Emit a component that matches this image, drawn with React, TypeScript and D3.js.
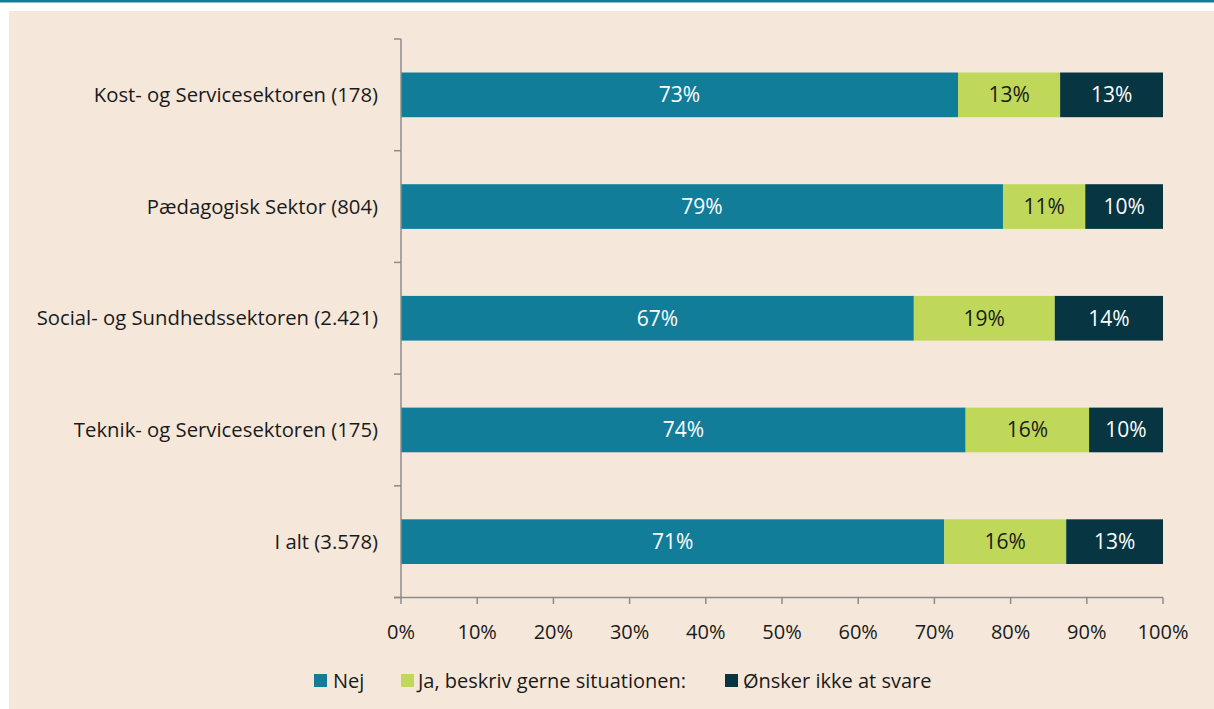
import React from "react";
import * as d3 from "d3";

const categories = [
  "Kost- og Servicesektoren (178)",
  "Pædagogisk Sektor (804)",
  "Social- og Sundhedssektoren (2.421)",
  "Teknik- og Servicesektoren (175)",
  "I alt (3.578)",
];
const seriesNames = ["Nej", "Ja, beskriv gerne situationen:", "Ønsker ikke at svare"];
const nej = [73.1, 79.0, 67.3, 74.1, 71.3];
const ja = [13.4, 10.8, 18.5, 16.2, 16.0];
const oensker = [13.5, 10.2, 14.2, 9.7, 12.7];
const labelsNej = ["73%", "79%", "67%", "74%", "71%"];
const labelsJa = ["13%", "11%", "19%", "16%", "16%"];
const labelsOensker = ["13%", "10%", "14%", "10%", "13%"];
const xTicks = [0, 10, 20, 30, 40, 50, 60, 70, 80, 90, 100];

const colors = ["#127d99", "#bfd85a", "#073541"];
const textColors = ["#ffffff", "#1a1a1a", "#ffffff"];
const FONT = "'Open Sans', 'Noto Sans', sans-serif";

export default function App() {
  const W = 1214, H = 709;
  const x = d3.scaleLinear().domain([0, 100]).range([401, 1163]);
  const y = d3.scaleBand().domain(categories).range([39, 597.5]).paddingInner(0.6).paddingOuter(0.3);
  const yEdge = d3.scaleLinear().domain([0, categories.length]).range([39, 597.5]);
  const series = [nej, ja, oensker];
  const labels = [labelsNej, labelsJa, labelsOensker];
  const axisColor = "#8c8c8c";

  const legendItems = [
    { sq: 314, tx: 333 },
    { sq: 401, tx: 418 },
    { sq: 725, tx: 743 },
  ];

  return (
    <svg width={W} height={H} style={{ position: "absolute", left: 0, top: 0 }} fontFamily={FONT}>
      <rect x={0} y={0} width={W} height={H} fill="#ffffff" />
      <rect x={0} y={0} width={W} height={2.5} fill="#127d99" />
      <rect x={9} y={11} width={W - 9} height={H - 11} fill="#f5e8da" />
      {categories.map((c, i) => {
        let acc = 0;
        return (
          <g key={c}>
            {series.map((s, k) => {
              const x0 = x(acc);
              acc += s[i];
              const x1 = x(acc);
              const by = y(c)!;
              return (
                <g key={k}>
                  <rect x={x0} y={by} width={x1 - x0} height={y.bandwidth()} fill={colors[k]} />
                  <text x={(x0 + x1) / 2} y={by + y.bandwidth() / 2} dy="0.35em" textAnchor="middle"
                    fontSize={21} fill={textColors[k]}>{labels[k][i]}</text>
                </g>
              );
            })}
            <text x={378} y={y(c)! + y.bandwidth() / 2} dy="0.35em" textAnchor="end" fontSize={20.3} fill="#1a1a1a">{c}</text>
          </g>
        );
      })}
      {/* y axis */}
      <line x1={401} x2={401} y1={39} y2={597.5} stroke={axisColor} strokeWidth={1.5} />
      {d3.range(categories.length + 1).map((i) => (
        <line key={i} x1={394} x2={401} y1={yEdge(i)} y2={yEdge(i)} stroke={axisColor} strokeWidth={1.5} />
      ))}
      {/* x axis */}
      <line x1={394} x2={1163} y1={597.5} y2={597.5} stroke={axisColor} strokeWidth={1.5} />
      {xTicks.map((t) => (
        <g key={t}>
          <line x1={x(t)} x2={x(t)} y1={597.5} y2={604} stroke={axisColor} strokeWidth={1.5} />
          <text x={x(t)} y={632} dy="0.35em" textAnchor="middle" fontSize={20} fill="#1a1a1a">{t}%</text>
        </g>
      ))}
      {/* legend */}
      {seriesNames.map((n, k) => (
        <g key={n}>
          <rect x={legendItems[k].sq} y={674} width={13} height={13} fill={colors[k]} />
          <text x={legendItems[k].tx} y={681} dy="0.35em" fontSize={20} fill="#1a1a1a">{n}</text>
        </g>
      ))}
    </svg>
  );
}
